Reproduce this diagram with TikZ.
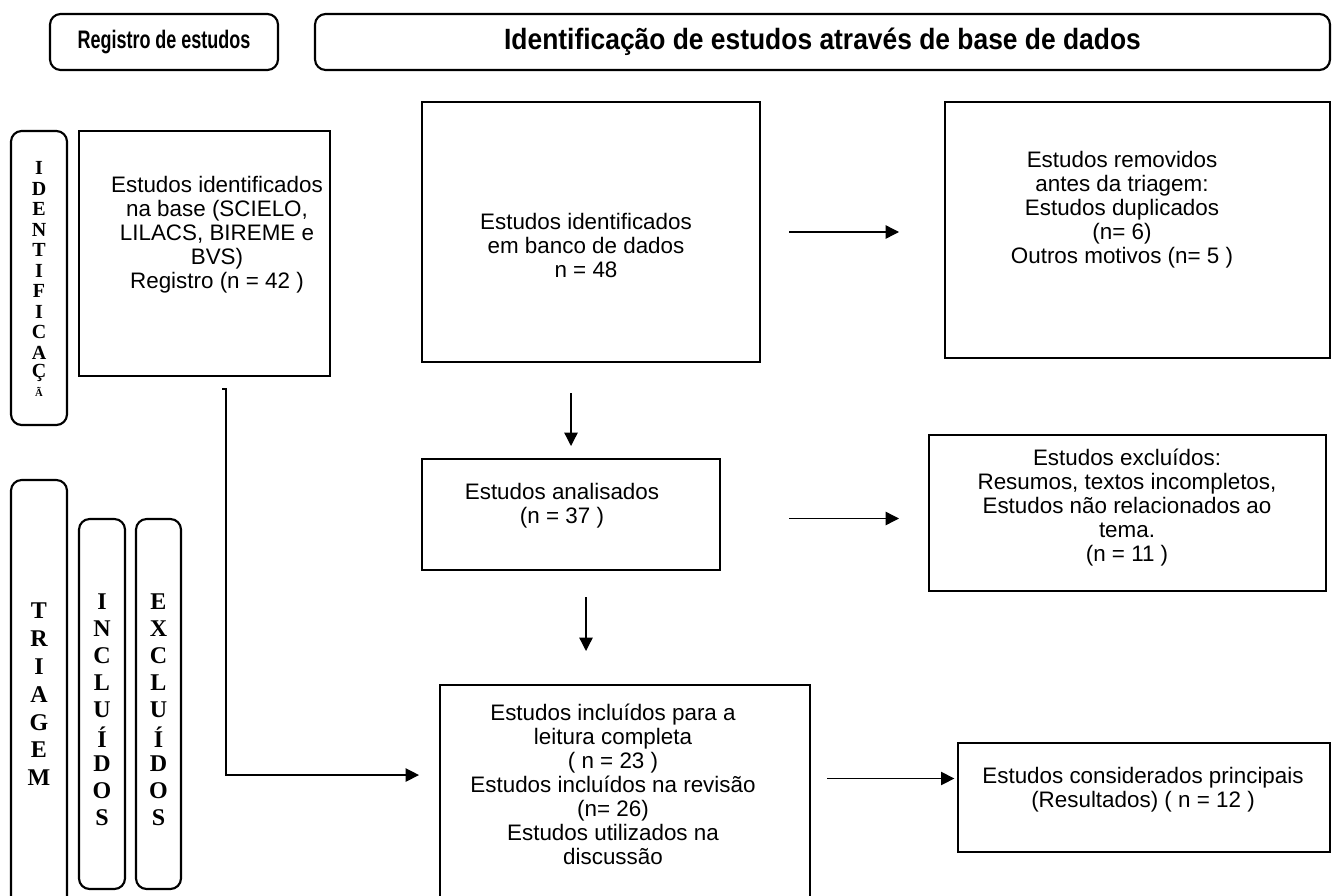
\documentclass[tikz,border=0pt]{standalone}
\usepackage{fontspec}
\setmainfont{Liberation Sans}
\newfontfamily\serifletters{Liberation Serif}
\newfontfamily\narrowsans[FakeStretch=0.71]{Liberation Sans}
\newfontfamily\widesans[FakeStretch=0.9]{Liberation Sans}
\usetikzlibrary{arrows.meta}

\begin{document}
\begin{tikzpicture}[x=0.75pt,y=-0.75pt]
\tikzstyle{box}=[draw, line width=1.5pt, inner sep=0pt]
\tikzstyle{rbox}=[draw, line width=1.6pt, rounded corners=8pt, inner sep=0pt]
\tikzstyle{txt}=[align=center, inner sep=0pt, font=\fontsize{16.8}{18}\selectfont]
\tikzstyle{let}=[inner sep=0pt, font=\fontsize{18}{18}\selectfont\serifletters\bfseries]
\tikzstyle{smlet}=[inner sep=0pt, font=\fontsize{15}{15}\selectfont\serifletters\bfseries]
\tikzstyle{arr}=[line width=1pt, -{Triangle[length=10pt,width=10pt]}]

\useasboundingbox (0,0) rectangle (1344,895);
\clip (0,0) rectangle (1344,895);

% headers
\node[rbox, font=\fontsize{19}{19}\selectfont\narrowsans\bfseries, minimum width=171pt, minimum height=42pt] (hdrA) at (164,42) {Registro de estudos};
\node[rbox, font=\fontsize{22}{22}\selectfont\widesans\bfseries, minimum width=761.25pt, minimum height=42pt] (hdrB) at (822.5,42) {Identificação de estudos através de base de dados};

% side labels
\node[rbox, minimum width=42pt, minimum height=220.5pt] (sideId) at (39,278) {};
\foreach \l [count=\i from 0] in {I,D,E,N,T,I,F,I,C,A,Ç} {
\node[smlet] (id\i) at (39,168+20.5*\i) {\l};
}
\node[inner sep=0pt, font=\fontsize{8}{8}\selectfont\serifletters\bfseries] (id11) at (39,392) {Ã};

\node[rbox, minimum width=42pt, minimum height=330pt] (sideTri) at (39,700) {};
\foreach \l [count=\i from 0] in {T,R,I,A,G,E,M} {
\node[let] (tri\i) at (39,611+27.8*\i) {\l};
}
\node[rbox, minimum width=34.5pt, minimum height=277.5pt] (sideInc) at (102,704) {};
\foreach \l [count=\i from 0] in {I,N,C,L,U,Í,D,O,S} {
\node[let] (inc\i) at (102,602+27*\i) {\l};
}
\node[rbox, minimum width=33.75pt, minimum height=277.5pt] (sideExc) at (158.5,704) {};
\foreach \l [count=\i from 0] in {E,X,C,L,U,Í,D,O,S} {
\node[let] (exc\i) at (158.5,602+27*\i) {\l};
}

% boxes
\node[box, minimum width=188.25pt, minimum height=183.75pt] (reg) at (204.5,253.5) {};
\node[txt] (regT) at (217,235) {Estudos identificados\\na base (SCIELO,\\LILACS, BIREME e\\BVS)\\Registro (n = 42 )};

\node[box, minimum width=253.5pt, minimum height=195pt] (banco) at (591,232) {};
\node[txt] (bancoT) at (586,245) {Estudos identificados\\em banco de dados\\n = 48};

\node[box, minimum width=288.75pt, minimum height=192pt] (remov) at (1137.5,230) {};
\node[txt] (removT) at (1122,210) {Estudos removidos\\antes da triagem:\\Estudos duplicados\\(n= 6)\\Outros motivos (n= 5 )};

\node[box, minimum width=223.5pt, minimum height=83.25pt] (anal) at (571,514.5) {};
\node[txt] (analT) at (562,506) {Estudos analisados\\(n = 37 )};

\node[box, minimum width=297.75pt, minimum height=117pt] (excl) at (1127.5,513) {};
\node[txt] (exclT) at (1127,508) {Estudos excluídos:\\Resumos, textos incompletos,\\Estudos não relacionados ao\\tema.\\(n = 11 )};

\node[box, minimum width=277.5pt, minimum height=176.25pt] (incl) at (625,802.5) {};
\node[txt] (inclT) at (613,784) {Estudos incluídos para a\\leitura completa\\( n = 23 )\\Estudos incluídos na revisão\\(n= 26)\\Estudos utilizados na\\discussão};

\node[box, minimum width=279pt, minimum height=81.75pt] (princ) at (1144,797.5) {};
\node[txt] (princT) at (1143,790) {Estudos considerados principais\\(Resultados) ( n = 12 )};

% connectors
\draw[arr, shorten <=21pt, shorten >=33.75pt] (banco.east) -- (banco.east -| remov.west);
\draw[arr, shorten <=22.5pt, shorten >=9pt] (anal.north |- banco.south) -- (anal.north);
\draw[arr, shorten <=51pt, shorten >=21.75pt] ([yshift=-3pt]anal.east) -- ([yshift=-3pt]anal.east -| excl.west);
\draw[arr, shorten <=19.5pt, shorten >=24.75pt] ([xshift=11.25pt]anal.south) -- ([xshift=11.25pt]anal.south |- incl.north);
\draw[arr, shorten <=12pt, shorten >=2pt] ([yshift=18pt]incl.east) -- ([yshift=18pt]incl.east -| princ.west);
\coordinate (tick) at (222,389);
\draw[arr, shorten >=15pt] (tick) -- ++(4,0) |- ([yshift=20.6pt]incl.west);

\end{tikzpicture}
\end{document}
